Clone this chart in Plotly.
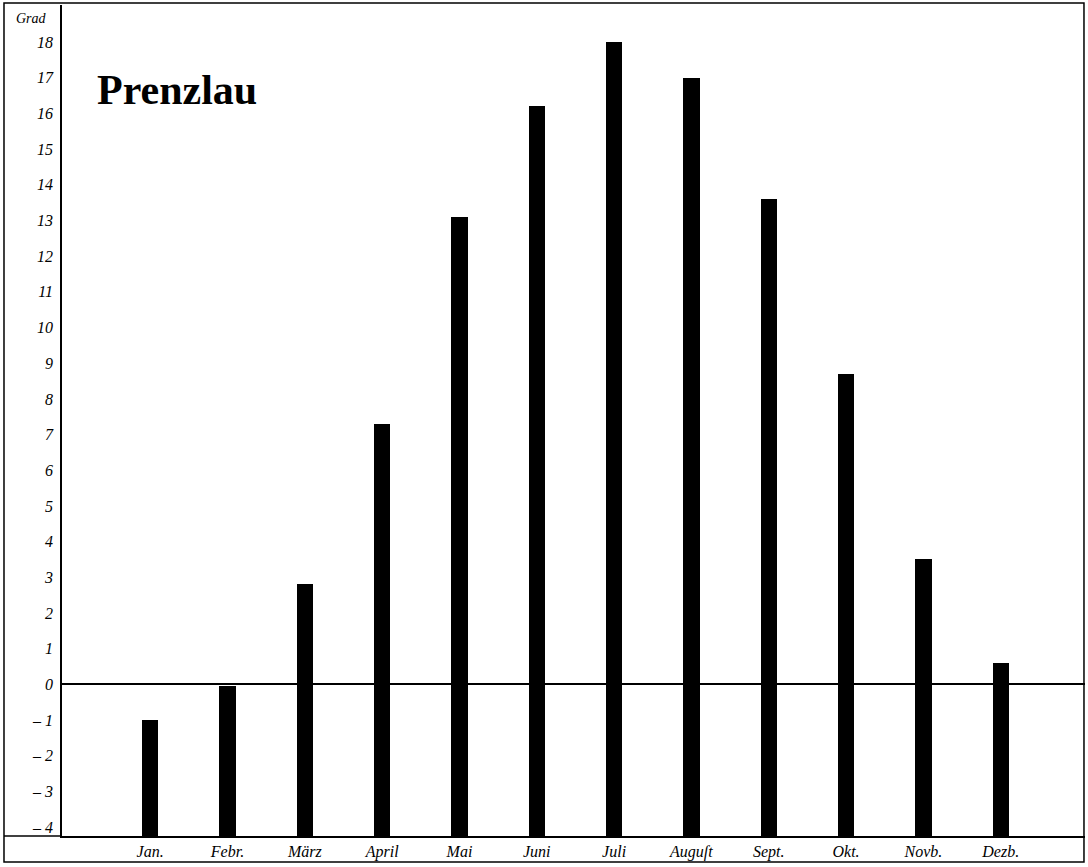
import plotly.graph_objects as go

months = ["Jan.", "Febr.", "März", "April", "Mai", "Juni", "Juli", "Auguſt", "Sept.", "Okt.", "Novb.", "Dezb."]
temps = [-1.0, -0.05, 2.8, 7.3, 13.1, 16.2, 18.0, 17.0, 13.6, 8.7, 3.5, 0.6]
tick_vals = list(range(-4, 19))
tick_text = [("\u2013 " + str(-v)) if v < 0 else str(v) for v in tick_vals]

Y_MIN, Y_MAX = -4.25, 19.04
serif = "Liberation Serif, DejaVu Serif, serif"

fig = go.Figure()
fig.add_trace(go.Bar(
    x=months,
    y=[t - Y_MIN for t in temps],
    base=Y_MIN,
    width=0.21,
    marker=dict(color="black", line=dict(width=0)),
    hoverinfo="skip",
))

fig.update_layout(
    width=1088, height=867,
    margin=dict(l=62, r=3, t=5, b=31),
    paper_bgcolor="white", plot_bgcolor="white",
    showlegend=False,
    bargap=0,
    xaxis=dict(
        range=[-1.14, 12.09], showgrid=False, zeroline=False,
        showline=True, linecolor="black", linewidth=1.5,
        ticks="", tickfont=dict(family=serif, size=16, color="black", style="italic"),
        fixedrange=True,
    ),
    yaxis=dict(
        range=[Y_MIN, Y_MAX], showgrid=False,
        zeroline=True, zerolinecolor="black", zerolinewidth=1.5,
        showline=True, linecolor="black", linewidth=1.5,
        tickmode="array", tickvals=tick_vals, ticktext=tick_text,
        ticks="", tickfont=dict(family=serif, size=16, color="black", style="italic"),
        ticklabelstandoff=4,
        fixedrange=True,
    ),
    annotations=[
        dict(text="Grad", x=-0.03, y=0.995, xref="paper", yref="paper",
             xanchor="center", yanchor="top", showarrow=False,
             font=dict(family=serif, size=14, color="black", style="italic")),
        dict(text="<b>Prenzlau</b>", x=0.032, y=0.898, xref="paper", yref="paper",
             xanchor="left", yanchor="middle", showarrow=False,
             font=dict(family=serif, size=42, color="black")),
    ],
    shapes=[
        dict(type="rect", xref="paper", yref="paper",
             x0=-0.0567, x1=0.999, y0=-0.0313, y1=1.0024,
             line=dict(color="black", width=1.5)),
        dict(type="line", xref="paper", yref="paper",
             x0=-0.0567, x1=0, y0=0, y1=0,
             line=dict(color="black", width=1.5)),
    ],
)

fig.write_html("out.html", config={"displayModeBar": False},
               post_script="document.body.style.margin='0px';document.body.style.overflow='hidden';")
